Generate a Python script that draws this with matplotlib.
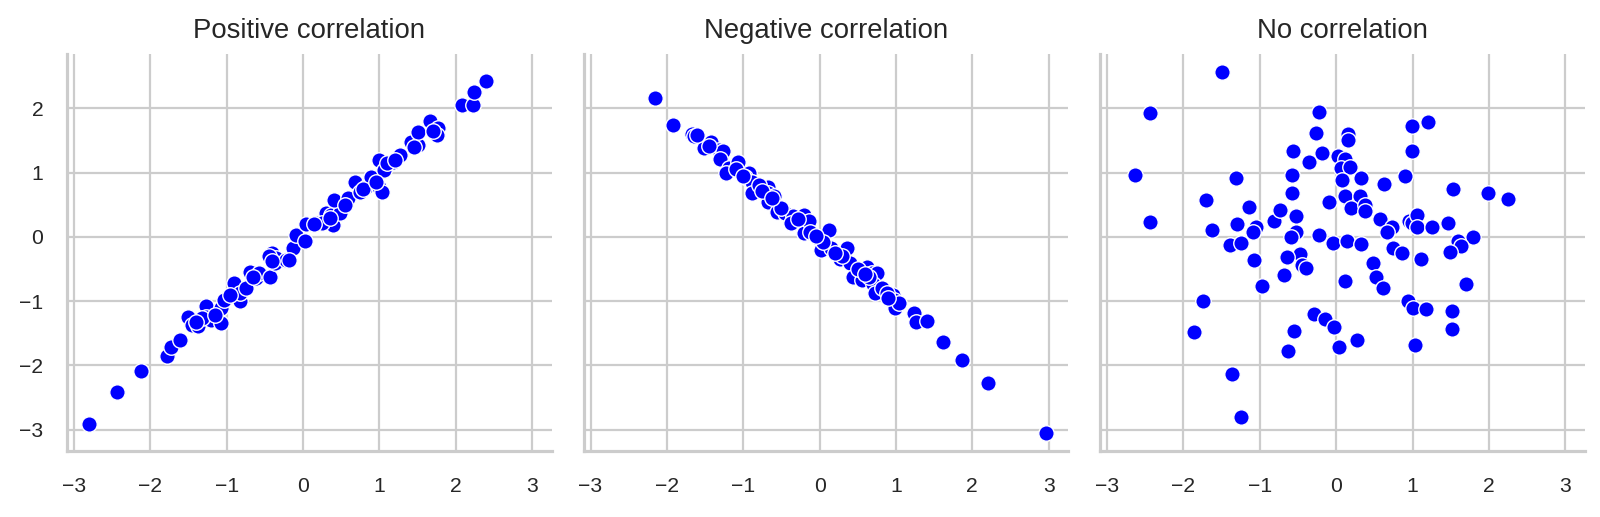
import matplotlib
matplotlib.use("Agg")
import matplotlib.pyplot as plt
import seaborn as sns

titles = ["Positive correlation", "Negative correlation", "No correlation"]
x_ticks = [-3, -2, -1, 0, 1, 2, 3]
y_ticks = [-3, -2, -1, 0, 1, 2]

pos_x = [-2.80, -2.43, -2.12, -1.78, -1.73, -1.61, -1.51, -1.45, -1.37, -1.27,
         -1.27, -1.20, -1.08, -1.08, -1.03, -0.90, -0.83, -0.83, -0.75, -0.69,
         -0.61, -0.57, -0.43, -0.40, -0.35, -0.37, -0.22, -0.13, -0.09, 0.02,
         0.04, 0.19, 0.30, 0.39, 0.37, 0.48, 0.41, 0.59, 0.68, 0.74,
         0.82, 0.89, 1.00, 1.03, 1.00, 1.06, 1.18, 1.27, 1.42, 1.51,
         1.51, 1.66, 1.77, 1.75, 2.08, 2.22, 2.24, 2.40,
         -1.32, -0.45, 0.25, 0.35, 0.78, 1.10, 1.20, -0.95, -0.40, -0.18,
         -1.40, -1.15, -0.65, 0.15, 0.55, 0.95, 1.45, 1.70]
pos_y = [-2.92, -2.42, -2.09, -1.86, -1.72, -1.60, -1.24, -1.37, -1.38, -1.08,
         -1.25, -1.29, -1.34, -1.11, -0.98, -0.72, -1.00, -0.88, -0.80, -0.54,
         -0.64, -0.56, -0.62, -0.25, -0.33, -0.41, -0.36, -0.18, 0.03, -0.07,
         0.20, 0.21, 0.37, 0.19, 0.34, 0.37, 0.58, 0.60, 0.86, 0.70,
         0.78, 0.94, 0.78, 0.70, 1.20, 1.04, 1.17, 1.28, 1.48, 1.43,
         1.64, 1.80, 1.69, 1.59, 2.05, 2.05, 2.25, 2.43,
         -1.27, -0.30, 0.22, 0.30, 0.75, 1.15, 1.20, -0.90, -0.37, -0.36,
         -1.33, -1.22, -0.62, 0.20, 0.50, 0.85, 1.40, 1.65]

neg_x = [-2.16, -1.92, -1.67, -1.64, -1.42, -1.52, -1.32, -1.26, -1.31, -1.19,
         -1.23, -1.07, -0.92, -0.98, -0.88, -0.88, -0.68, -0.67, -0.60, -0.67,
         -0.56, -0.45, -0.35, -0.38, -0.21, -0.21, -0.14, -0.12, 0.01, 0.12,
         0.02, 0.15, 0.27, 0.36, 0.40, 0.44, 0.56, 0.62, 0.69, 0.75,
         0.70, 0.73, 0.82, 0.96, 0.97, 0.99, 1.04, 1.24, 1.26, 1.41,
         1.61, 1.87, 2.20, 2.97,
         -1.45, -1.10, -0.80, -0.50, -0.28, 0.05, 0.30, 0.50, 0.65, 0.88,
         -1.60, -1.00, -0.75, -0.62, -0.05, 0.20, 0.60, 0.90]
neg_y = [2.17, 1.74, 1.60, 1.57, 1.48, 1.39, 1.35, 1.33, 1.21, 1.08,
         0.99, 1.16, 1.00, 0.94, 0.86, 0.68, 0.78, 0.69, 0.63, 0.55,
         0.39, 0.37, 0.33, 0.22, 0.34, 0.06, 0.24, 0.08, -0.05, 0.10,
         -0.21, -0.18, -0.35, -0.18, -0.40, -0.63, -0.67, -0.47, -0.56, -0.56,
         -0.74, -0.88, -0.80, -0.90, -0.98, -1.11, -1.03, -1.19, -1.33, -1.31,
         -1.63, -1.91, -2.28, -3.05,
         1.42, 1.05, 0.80, 0.45, 0.28, -0.08, -0.30, -0.50, -0.62, -0.88,
         1.58, 0.95, 0.72, 0.60, 0.02, -0.25, -0.58, -0.95]

none_x = [-1.50, -2.44, -2.64, -1.31, -2.44, -1.71, -1.63, -1.14, -1.30, -1.39,
          -1.25, -1.05, -1.09, -0.82, -0.74, -0.57, -0.58, -0.58, -0.53, -0.52,
          -0.59, -0.48, -0.36, -0.27, -0.22, -0.18, -0.10, -0.22, -0.04, 0.16,
          0.15, 0.03, 0.11, 0.06, 0.18, 0.07, 0.32, 0.14, 0.11, 0.31,
          0.19, 0.38, 0.38, 0.62, 0.57, 0.73, 0.67, 0.14, 0.33, 0.90,
          0.99, 1.20, 0.99, 0.95, 0.99, 1.06, 1.06, 1.26, 1.46, 1.53,
          1.99, 2.25, 1.79, 1.60, 1.64, 1.49, 0.75, 0.86, 1.11, -1.08,
          -0.97, -1.74, -1.86, -1.37, -1.25, -0.65, -0.45, -0.40, -0.68, -0.55,
          -0.63, -0.29, -0.15, -0.03, 0.27, 0.04, 0.11, 0.48, 0.52, 0.61,
          0.94, 1.01, 1.17, 1.03, 1.70, 1.52, 1.52]
none_y = [2.57, 1.93, 0.96, 0.92, 0.23, 0.57, 0.10, 0.47, 0.20, -0.12,
          -0.10, 0.16, 0.07, 0.24, 0.42, 1.34, 0.96, 0.69, 0.32, 0.08,
          0.00, -0.26, 1.16, 1.61, 1.94, 1.30, 0.54, 0.03, -0.10, 1.60,
          1.51, 1.26, 1.22, 1.07, 1.09, 0.89, 0.91, 0.60, 0.63, 0.64,
          0.45, 0.50, 0.41, 0.82, 0.28, 0.16, 0.08, -0.07, -0.11, 0.95,
          1.72, 1.79, 1.34, 0.25, 0.22, 0.34, 0.16, 0.16, 0.22, 0.75,
          0.68, 0.59, 0.00, -0.07, -0.14, -0.24, -0.18, -0.25, -0.34, -0.36,
          -0.76, -1.00, -1.48, -2.13, -2.80, -0.32, -0.44, -0.49, -0.60, -1.46,
          -1.77, -1.20, -1.28, -1.41, -1.60, -1.72, -0.69, -0.41, -0.63, -0.80,
          -1.00, -1.11, -1.12, -1.68, -0.74, -1.15, -1.43]

sns.set_style("whitegrid")
plt.rcParams["font.family"] = ["Liberation Sans", "DejaVu Sans"]

fig, axes = plt.subplots(1, 3, figsize=(8, 2.585), dpi=200, sharex=True, sharey=True)
fig.subplots_adjust(left=0.042, right=0.9906, top=0.896, bottom=0.128, wspace=0.066)

series = [(pos_x, pos_y), (neg_x, neg_y), (none_x, none_y)]
for ax, (xs, ys), title in zip(axes, series, titles):
    ax.scatter(xs, ys, s=31, c="blue", edgecolors="white", linewidths=0.5, zorder=3)
    ax.set_title(title, fontsize=9.9, color="0.15", pad=5.5)
    ax.grid(True, color="0.8", linewidth=0.8)
    ax.set_axisbelow(True)
    for side in ["top", "right"]:
        ax.spines[side].set_visible(False)
    for side in ["left", "bottom"]:
        ax.spines[side].set_color("0.8")
        ax.spines[side].set_linewidth(1.15)
    ax.tick_params(axis="both", length=0, labelsize=7.6, colors="0.15")
    ax.tick_params(axis="x", pad=9.5)
    ax.tick_params(axis="y", pad=8.6)

axes[0].set_xticks(x_ticks)
axes[0].set_yticks(y_ticks)
axes[0].set_xticklabels([f"\u2212{abs(t)}" if t < 0 else str(t) for t in x_ticks])
axes[0].set_yticklabels([f"\u2212{abs(t)}" if t < 0 else str(t) for t in y_ticks])

fig.savefig("out.png", dpi=200)
